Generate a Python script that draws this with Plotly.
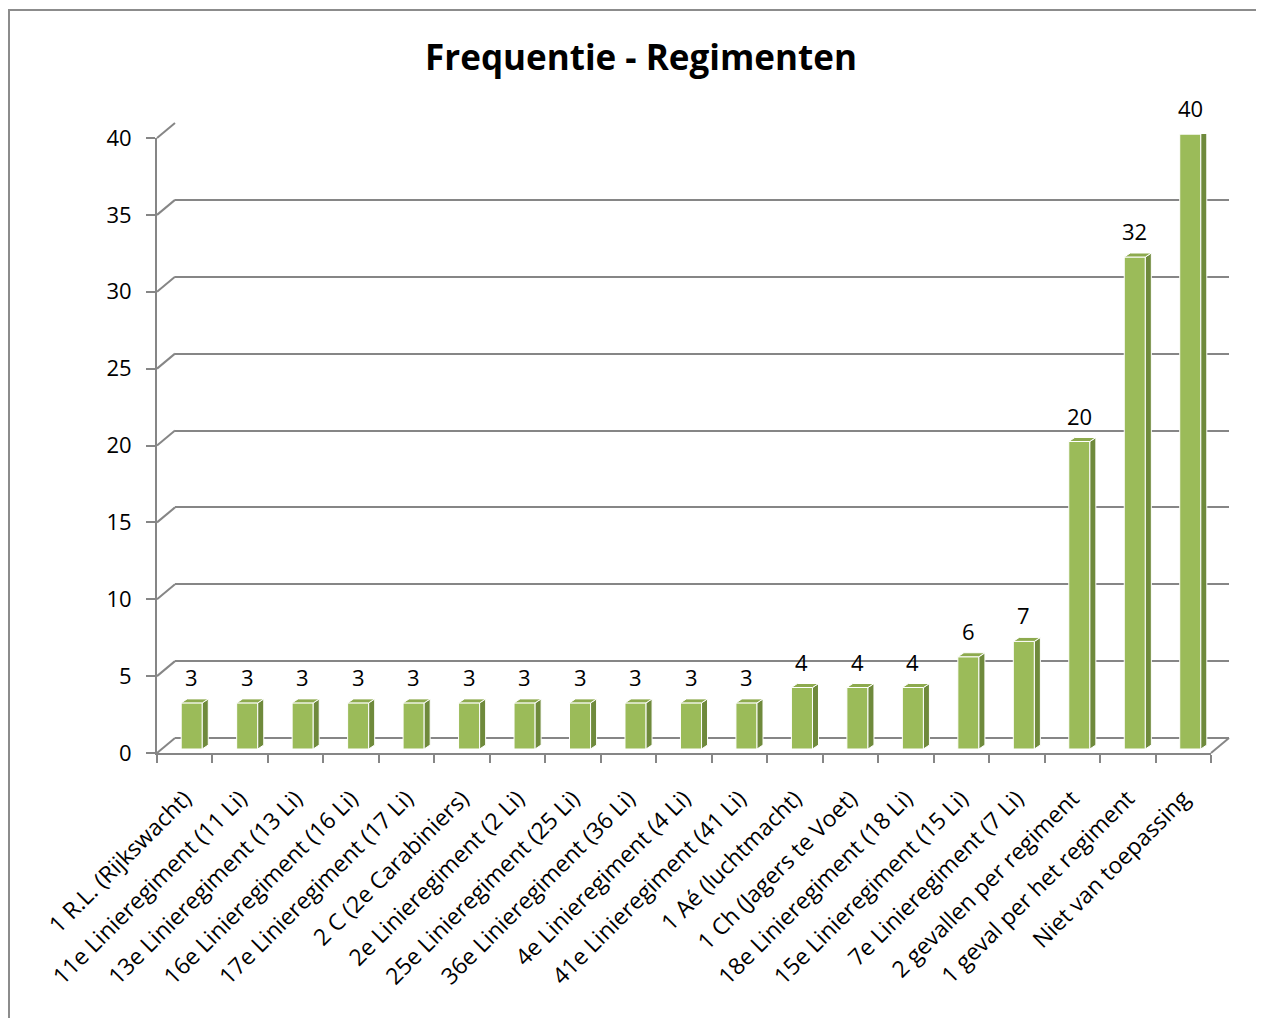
import plotly.graph_objects as go

# ---------------- data ----------------
categories = [
    "1 R.L. (Rijkswacht)",
    "11e Linieregiment (11 Li)",
    "13e Linieregiment (13 Li)",
    "16e Linieregiment (16 Li)",
    "17e Linieregiment (17 Li)",
    "2 C (2e Carabiniers)",
    "2e Linieregiment (2 Li)",
    "25e Linieregiment (25 Li)",
    "36e Linieregiment (36 Li)",
    "4e Linieregiment (4 Li)",
    "41e Linieregiment (41 Li)",
    "1 Aé (luchtmacht)",
    "1 Ch (Jagers te Voet)",
    "18e Linieregiment (18 Li)",
    "15e Linieregiment (15 Li)",
    "7e Linieregiment (7 Li)",
    "2 gevallen per regiment",
    "1 geval per het regiment",
    "Niet van toepassing",
]
values = [3, 3, 3, 3, 3, 3, 3, 3, 3, 3, 3, 4, 4, 4, 6, 7, 20, 32, 40]
y_ticks = [0, 5, 10, 15, 20, 25, 30, 35, 40]
title_text = "Frequentie - Regimenten"

# ---------------- geometry / style ----------------
OFF = 8                      # page body margin in the browser
W, H = 1264 - OFF, 1018 - OFF
FONT = "Open Sans"
GRID = "#868686"
FRONT = "#9BBB59"
SIDE = "#6F8A3C"
TOP = "#8DAA4E"

YMAX = 40
XR = [-0.5, len(categories) - 0.5]


def px_x(p):
    return (p - OFF) / W


def px_y(p):
    return 1 - (p - OFF) / H


# plane definitions in screen pixels: (left, right, bottom(value 0), top(value YMAX))
front = dict(l=157, r=1211, b=753, t=138)
back = dict(l=175, r=1229, b=738, t=123)
barp = dict(l=164, r=1218, b=749, t=134)


def dom_x(p):
    return [px_x(p["l"]), px_x(p["r"])]


def dom_y(p):
    return [px_y(p["b"]), px_y(p["t"])]


def val_to_px(p, v):
    return p["b"] - (p["b"] - p["t"]) * v / YMAX


n = len(categories)
xs = list(range(n))
bar_w = 0.38
cat_px = (barp["r"] - barp["l"]) / n
dx = 6 / cat_px
dy = 4 / ((barp["b"] - barp["t"]) / YMAX)

fig = go.Figure()

# front axis subplot (only axes)
fig.add_trace(go.Scatter(x=[None], y=[None], xaxis="x", yaxis="y",
                         showlegend=False, hoverinfo="skip"))
# back wall subplot (gridlines)
fig.add_trace(go.Scatter(x=[None], y=[None], xaxis="x2", yaxis="y2",
                         showlegend=False, hoverinfo="skip"))

# bars (front faces)
fig.add_trace(go.Bar(x=xs, y=values, width=bar_w, xaxis="x3", yaxis="y3",
                     marker=dict(color=FRONT, line=dict(color="white", width=1)),
                     showlegend=False, hoverinfo="skip"))

# side and top faces
sx, sy = [], []
tx, ty = [], []
for x, v in zip(xs, values):
    r = x + bar_w / 2
    l = x - bar_w / 2
    sx += [r, r + dx, r + dx, r, r, None]
    sy += [0, dy, v + dy, v, 0, None]
    tx += [l, r, r + dx, l + dx, l, None]
    ty += [v, v, v + dy, v + dy, v, None]
fig.add_trace(go.Scatter(x=sx, y=sy, xaxis="x3", yaxis="y3", mode="lines",
                         fill="toself", fillcolor=SIDE,
                         line=dict(color="white", width=1),
                         showlegend=False, hoverinfo="skip"))
fig.add_trace(go.Scatter(x=tx, y=ty, xaxis="x3", yaxis="y3", mode="lines",
                         fill="toself", fillcolor=TOP,
                         line=dict(color="white", width=1),
                         showlegend=False, hoverinfo="skip"))

# data labels
for x, v in zip(xs, values):
    fig.add_annotation(x=x, y=v, xref="x3", yref="y3", text=str(v),
                       showarrow=False, yshift=26, yanchor="middle",
                       font=dict(family=FONT, size=22, color="black"))

common_hidden = dict(showgrid=False, zeroline=False, showticklabels=False,
                     ticks="", showline=False, fixedrange=True)

fig.update_layout(
    width=W, height=H,
    margin=dict(l=0, r=0, t=0, b=0),
    paper_bgcolor="white", plot_bgcolor="rgba(0,0,0,0)",
    showlegend=False,
    title=dict(text="<b>" + title_text + "</b>", x=px_x(641), y=px_y(58),
               xanchor="center", yanchor="middle",
               font=dict(family=FONT, size=35, color="black")),
    xaxis=dict(domain=dom_x(front), range=XR, anchor="y",
               tickmode="array", tickvals=xs, ticktext=categories,
               tickangle=-45, ticks="outside", ticklen=0,
               ticklabelstandoff=21,
               tickfont=dict(family=FONT, size=23, color="black"),
               showgrid=False, zeroline=False, showline=True,
               linecolor=GRID, linewidth=2, automargin=False,
               minor=dict(ticks="outside", ticklen=8, tickcolor=GRID,
                          tickwidth=2, tick0=-0.5, dtick=1, showgrid=False)),
    yaxis=dict(domain=dom_y(front), range=[0, YMAX], anchor="x",
               tickvals=y_ticks, ticks="outside", ticklen=9,
               tickcolor=GRID, tickwidth=2, ticklabelstandoff=10,
               tickfont=dict(family=FONT, size=22, color="black"),
               showgrid=False, zeroline=False, showline=True,
               linecolor=GRID, linewidth=2, automargin=False),
    xaxis2=dict(domain=dom_x(back), range=XR, anchor="y2", **common_hidden),
    yaxis2=dict(domain=dom_y(back), range=[0, YMAX], anchor="x2",
                tickvals=y_ticks, showgrid=True, gridcolor=GRID, gridwidth=2,
                zeroline=True, zerolinecolor=GRID, zerolinewidth=2,
                showticklabels=False, ticks="", showline=False, fixedrange=True),
    xaxis3=dict(domain=dom_x(barp), range=XR, anchor="y3", **common_hidden),
    yaxis3=dict(domain=dom_y(barp), range=[0, YMAX], anchor="x3", **common_hidden),
)

shapes = []
# left wall diagonals connecting front axis ticks to back wall gridlines
for v in y_ticks:
    shapes.append(dict(type="line", xref="paper", yref="paper",
                       x0=px_x(front["l"]), y0=px_y(val_to_px(front, v)),
                       x1=px_x(back["l"]), y1=px_y(val_to_px(back, v)),
                       line=dict(color=GRID, width=2), layer="below"))
# right floor diagonal
shapes.append(dict(type="line", xref="paper", yref="paper",
                   x0=px_x(front["r"]), y0=px_y(front["b"]),
                   x1=px_x(back["r"]), y1=px_y(back["b"]),
                   line=dict(color=GRID, width=2), layer="below"))
# chart border (left and top, cut off at right/bottom)
shapes.append(dict(type="line", xref="paper", yref="paper",
                   x0=px_x(9), y0=px_y(10), x1=px_x(9), y1=px_y(1030),
                   line=dict(color="#8C8C8C", width=2)))
shapes.append(dict(type="line", xref="paper", yref="paper",
                   x0=px_x(8), y0=px_y(10), x1=px_x(1280), y1=px_y(10),
                   line=dict(color="#8C8C8C", width=2)))
fig.update_layout(shapes=shapes)

fig.write_html("out.html")
